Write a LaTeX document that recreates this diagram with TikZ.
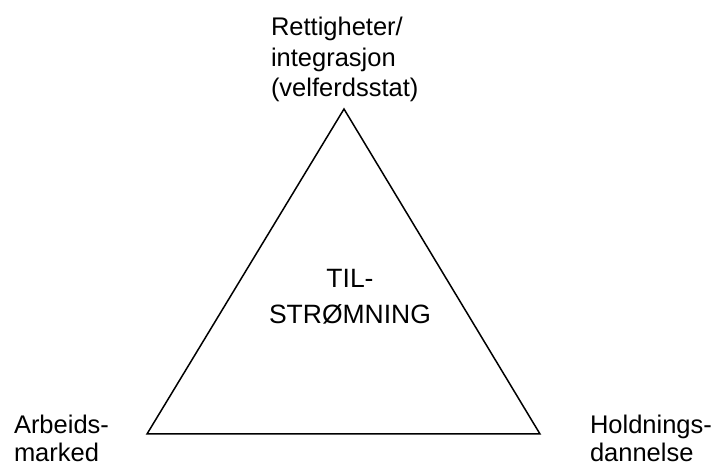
\documentclass[tikz,border=0pt]{standalone}
\usepackage{fontspec}
\setmainfont{Liberation Sans}
\begin{document}
\begin{tikzpicture}[x=1pt,y=-1pt,
  lbl/.style={inner sep=0pt,outer sep=0pt,font=\fontsize{25.5}{30.5}\selectfont},
  tri/.style={draw=black,line width=1.5pt,line join=miter}]
\useasboundingbox (0,0) rectangle (716,465);
\coordinate (A) at (344,109);
\coordinate (B) at (147,434);
\coordinate (C) at (540,434);
\draw[tri] (A) -- (B) -- (C) -- cycle;
\node[lbl,anchor=base west,align=left] (top) at (271,97) {Rettigheter/\\integrasjon\\(velferdsstat)};
\node[lbl,anchor=base,align=center,font=\fontsize{26.5}{36}\selectfont] (mid) at (350,324) {TIL-\\STRØMNING};
\node[lbl,anchor=base west,align=left,font=\fontsize{25.5}{28}\selectfont] (left) at (14,461) {Arbeids-\\marked};
\node[lbl,anchor=base west,align=left,font=\fontsize{25.5}{28}\selectfont] (right) at (590,461) {Holdnings-\\dannelse};
\end{tikzpicture}
\end{document}
